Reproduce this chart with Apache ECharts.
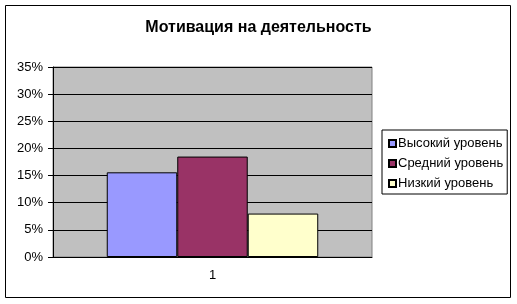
<!DOCTYPE html>
<html>
<head>
<meta charset="utf-8">
<script src="https://cdn.jsdelivr.net/npm/echarts@6/dist/echarts.min.js"></script>
<style>
html,body{margin:0;padding:0;background:#fff;}
#c{width:517px;height:304px;}
</style>
</head>
<body>
<div id="c"></div>
<script>
var title = 'Мотивация на деятельность';
var categories = ['1'];
var seriesNames = ['Высокий уровень', 'Средний уровень', 'Низкий уровень'];
var highValues = [0.156];
var midValues = [0.185];
var lowValues = [0.080];
var yTicks = [0, 0.05, 0.10, 0.15, 0.20, 0.25, 0.30, 0.35];
var colors = ['#9999FF', '#993366', '#FFFFCC'];

var font = '"Liberation Sans", Arial, sans-serif';
var chart = echarts.init(document.getElementById('c'), null, {renderer: 'canvas'});
var allValues = [highValues, midValues, lowValues];
chart.setOption({
  animation: false,
  backgroundColor: '#fff',
  title: {
    text: title,
    left: 'center',
    top: 15,
    textStyle: {fontFamily: font, fontSize: 16, fontWeight: 'bold', color: '#000'}
  },
  graphic: [{
    type: 'rect',
    shape: {x: 5.5, y: 5.5, width: 505, height: 292},
    style: {fill: 'none', stroke: '#000', lineWidth: 1},
    silent: true,
    z: -1
  }],
  legend: {
    orient: 'vertical',
    left: 382,
    top: 130,
    padding: [6, 4, 3, 6],
    itemGap: 5,
    itemWidth: 7,
    itemHeight: 7,
    borderColor: '#000',
    borderWidth: 1,
    icon: 'rect',
    textStyle: {fontFamily: font, fontSize: 13, color: '#000', lineHeight: 15, padding: [0, 0, 0, -3]},
    data: seriesNames
  },
  grid: {
    left: 53, top: 67, width: 319, height: 190,
    show: true, backgroundColor: '#C0C0C0', borderColor: '#808080', borderWidth: 1
  },
  xAxis: {
    type: 'category',
    data: categories,
    axisLine: {show: true, lineStyle: {color: '#000', width: 1}},
    axisTick: {show: false},
    axisLabel: {fontFamily: font, fontSize: 13, color: '#000', margin: 12}
  },
  yAxis: {
    type: 'value',
    min: yTicks[0],
    max: yTicks[yTicks.length - 1],
    interval: 0.05,
    axisLine: {show: true, lineStyle: {color: '#000', width: 1}},
    axisTick: {show: true, length: 5, lineStyle: {color: '#000'}},
    splitLine: {show: true, lineStyle: {color: '#000', width: 1}},
    axisLabel: {
      fontFamily: font, fontSize: 13, color: '#000', margin: 10,
      formatter: function (v) { return Math.round(v * 100) + '%'; }
    }
  },
  series: seriesNames.map(function (name, i) {
    return {
      name: name,
      type: 'bar',
      data: allValues[i],
      barGap: '0%',
      barCategoryGap: '33.7%',
      itemStyle: {color: colors[i], borderColor: '#000', borderWidth: 1}
    };
  })
});
</script>
</body>
</html>
